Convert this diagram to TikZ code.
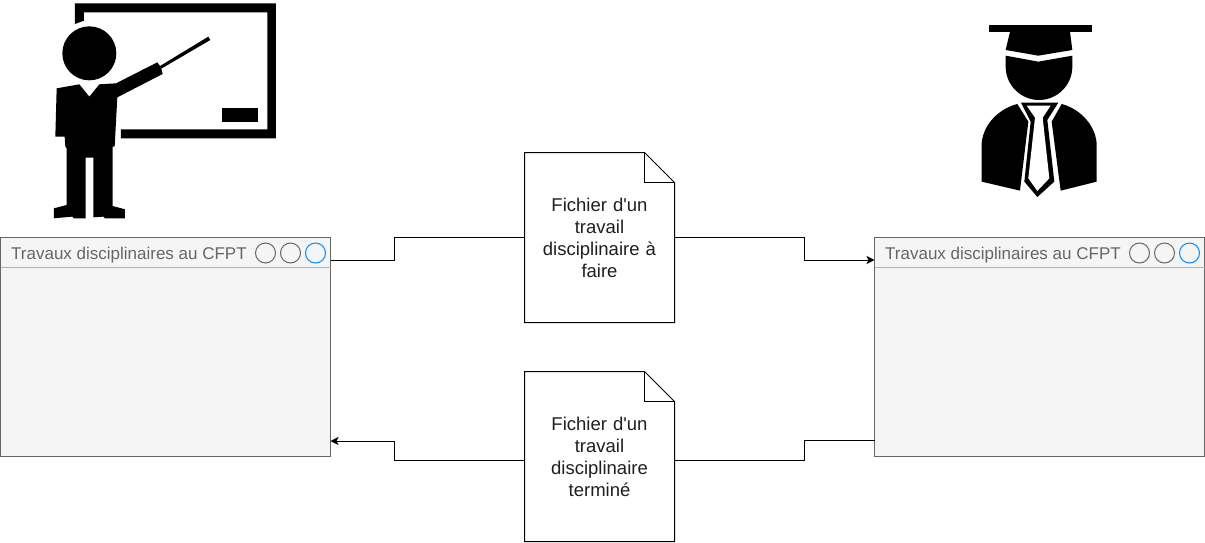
\documentclass[tikz,border=0pt]{standalone}
\usepackage{fontspec}
\setmainfont[Ligatures=TeXOff]{Liberation Sans}
\usetikzlibrary{arrows.meta,calc}
\definecolor{winstroke}{HTML}{666666}
\definecolor{winfill}{HTML}{F5F5F5}
\definecolor{barline}{HTML}{B3B3B3}
\definecolor{winblue}{HTML}{008CFF}
\tikzset{
  x=1pt,y=-1pt,
  winbox/.style={draw=winstroke,fill=winfill,line width=1pt,minimum width=330pt,minimum height=219pt,inner sep=0pt,outer sep=0pt},
  wintitle/.style={text=winstroke,font=\fontsize{17}{20}\selectfont,inner sep=0pt,anchor=west},
  winbtn/.style={circle,draw=winstroke,line width=1pt,minimum size=20pt,inner sep=0pt,fill=winfill},
  winbtnblue/.style={winbtn,draw=winblue},
  docbox/.style={minimum width=150pt,minimum height=170pt,inner sep=0pt,outer sep=0pt,align=center,text width=135pt,text=black!88,font=\fontsize{18.5}{22}\selectfont},
  docline/.style={draw=black,fill=white,line width=1pt},
  link/.style={draw=black,line width=1pt},
  linkarrow/.style={link,-{Stealth[length=8pt,width=8pt,inset=2pt]}},
  icon/.style={fill=black,draw=none},
}
\begin{document}
\begin{tikzpicture}
\useasboundingbox (0,0) rectangle (1205,542);
\fill[white] (0,0) rectangle (1205,542);
% windows
\node[winbox,anchor=north west] (winL) at (0.5,237.5) {};
\node[winbox,anchor=north west] (winR) at (874.5,237.5) {};
\coordinate (barLa) at ($(winL.north west)+(0,30)$);
\coordinate (barLb) at ($(winL.north east)+(0,30)$);
\coordinate (barRa) at ($(winR.north west)+(0,30)$);
\coordinate (barRb) at ($(winR.north east)+(0,30)$);
\draw[barline,line width=1pt] (barLa) -- (barLb);
\draw[barline,line width=1pt] (barRa) -- (barRb);
\node[wintitle] (titleL) at (11,255.3) {Travaux disciplinaires au CFPT};
\node[wintitle] (titleR) at (885,255.3) {Travaux disciplinaires au CFPT};
\node[winbtn] (btnLa) at (265.5,253) {};
\node[winbtn] (btnLb) at (290.5,253) {};
\node[winbtnblue] (btnLc) at (315.5,253) {};
\node[winbtn] (btnRa) at (1139.5,253) {};
\node[winbtn] (btnRb) at (1164.5,253) {};
\node[winbtnblue] (btnRc) at (1189.5,253) {};
% documents
\node[docbox,anchor=north west] (docA) at (524.5,152.5) {};
\node[docbox,anchor=north west] (docB) at (524.5,371.5) {};
\foreach \d in {docA,docB}{
  \draw[docline] (\d.north west) -- ($(\d.north east)+(-30,0)$) -- ($(\d.north east)+(0,30)$) -- (\d.south east) -- (\d.south west) -- cycle;
  \draw[docline,fill=none] ($(\d.north east)+(-30,0)$) -- ($(\d.north east)+(-30,30)$) -- ($(\d.north east)+(0,30)$);
}
\node[docbox,draw=none] (docAtext) at (docA.center) {Fichier d'un\\travail\\disciplinaire à\\faire};
\node[docbox,draw=none] (docBtext) at (docB.center) {Fichier d'un\\travail\\disciplinaire\\terminé};
% connectors
\coordinate (outL) at ($(winL.north east)+(0,22.5)$);
\coordinate (inR) at ($(winR.north west)+(0,22.5)$);
\coordinate (outR) at ($(winR.north west)+(0,203)$);
\coordinate (inL) at ($(winL.north east)+(0,203.5)$);
\coordinate (docBin) at ($(docB.north east)+(0,89)$);
\coordinate (docBout) at ($(docB.north west)+(0,89)$);
\draw[link] (outL) -- (394.5,260) |- (docA.west);
\draw[linkarrow] (docA.east) -- (804.5,237.5) |- (inR);
\draw[link] (outR) -- (804.5,440.5) |- (docBin);
\draw[linkarrow] (docBout) -- (394.5,460.5) |- (inL);
% teacher
\begin{scope}[shift={(40,0)},x=0.3333pt,y=-0.3333pt]
\fill[icon] (105,10) -- (708,10) -- (708,415) -- (243,415) -- (243,388) -- (682,388) -- (682,37) -- (132,37) -- (132,62) -- (105,72) -- cycle;
\fill[icon] (546,323) rectangle (654,365);
\fill[icon] (148,160) circle (81);
\fill[icon] (50,265) -- (118,253) -- (148,290) -- (178,253) -- (228,250) -- (352,187) -- (360,198) -- (505,110) -- (511,120) -- (364,206) -- (368,222) -- (232,292) -- (224,440) -- (218,440) -- (218,618) -- (255,628) -- (255,655) -- (195,655) -- (190,650) -- (160,652) -- (160,473) -- (137,473) -- (137,655) -- (102,655) -- (97,650) -- (42,655) -- (42,625) -- (80,615) -- (80,445) -- (76,440) -- (74,410) -- (46,410) -- cycle;
\end{scope}
% student
\begin{scope}[shift={(960,15)},x=0.3333pt,y=-0.3333pt]
\fill[icon] (88,30) rectangle (395,50);
\fill[icon] (150,50) -- (330,50) -- (337,105) -- (235,122) -- (137,105) -- cycle;
\fill[icon] (137,122) -- (235,140) -- (337,122) -- (337,155) .. controls (337,210) and (292,255) .. (237,255) .. controls (182,255) and (137,210) .. (137,155) -- cycle;
\fill[icon] (172,267) -- (205,320) -- (180,527) -- (65,500) -- (65,385) .. controls (70,325) and (120,280) .. (172,267) -- cycle;
\fill[icon] (305,267) -- (275,320) -- (302,527) -- (410,500) -- (410,385) .. controls (405,325) and (355,280) .. (305,267) -- cycle;
\fill[icon] (183,263) -- (295,263) -- (262,315) -- (283,500) -- (232,546) -- (193,500) -- (212,320) -- cycle;
\fill[white] (200,272) -- (272,272) -- (248,308) -- (268,490) -- (232,528) -- (205,490) -- (225,308) -- cycle;
\end{scope}
\end{tikzpicture}
\end{document}
